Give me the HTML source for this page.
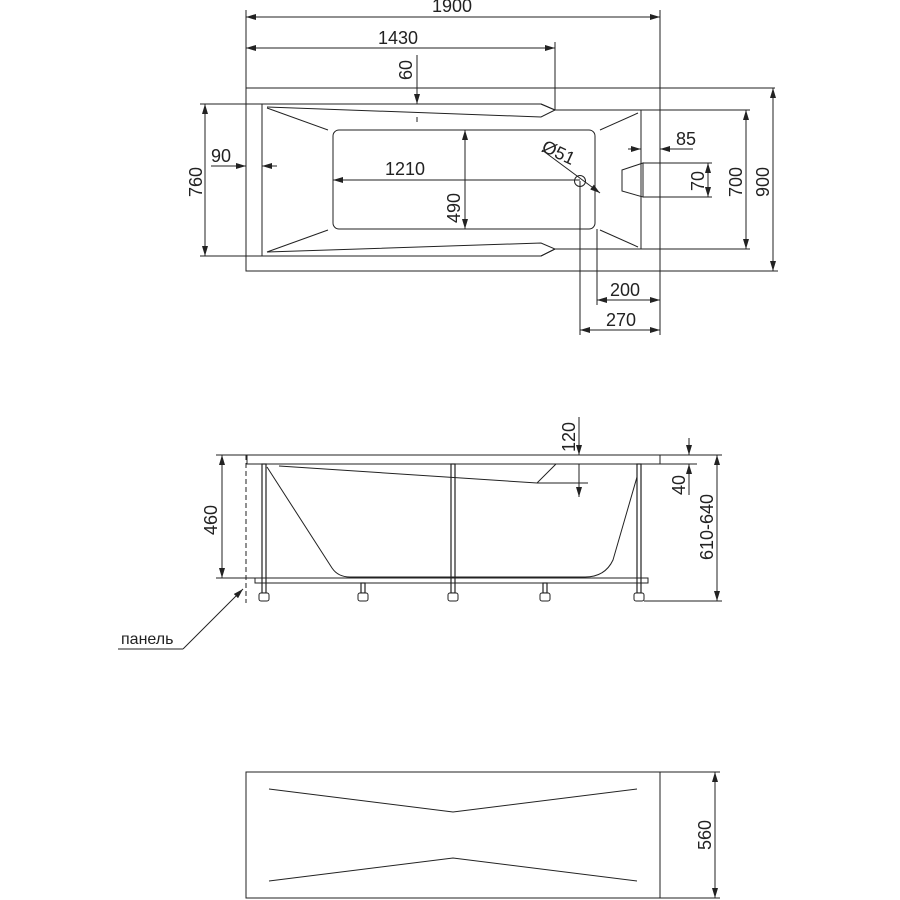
<!DOCTYPE html>
<html><head><meta charset="utf-8"><style>html,body{margin:0;padding:0;background:#fff}svg{display:block}</style></head>
<body>
<svg width="900" height="900" viewBox="0 0 900 900" xmlns="http://www.w3.org/2000/svg" font-family="'Liberation Sans', sans-serif" font-size="18" fill="none" stroke="#222" stroke-width="1">
<defs>
<marker id="a" viewBox="0 0 10 6" refX="10" refY="3" markerWidth="10" markerHeight="6" orient="auto-start-reverse" markerUnits="userSpaceOnUse"><path d="M0,0 L10,3 L0,6 z" fill="#222" stroke="none"/></marker>
</defs>
<!-- TOP VIEW -->
<rect x="246" y="88" width="414" height="183"/>
<line x1="660" y1="88" x2="775" y2="88"/>
<line x1="246" y1="10" x2="246" y2="88"/>
<line x1="660" y1="10" x2="660" y2="335"/>
<line x1="555" y1="42" x2="555" y2="110"/>
<line x1="246" y1="17" x2="660" y2="17" marker-start="url(#a)" marker-end="url(#a)"/>
<line x1="246" y1="48" x2="555" y2="48" marker-start="url(#a)" marker-end="url(#a)"/>
<text x="452" y="12" fill="#222" stroke="none" text-anchor="middle">1900</text>
<text x="398" y="44" fill="#222" stroke="none" text-anchor="middle">1430</text>
<!-- tub -->
<path d="M262,104 L541,104 L555,110 L641,110 L641,249 L555,249 L541,256 L262,256 Z" stroke-linejoin="round"/>
<path d="M541,104 L555,110 L541,117 L267,107"/>
<path d="M541,256 L555,249 L541,243 L267,252"/>
<rect x="333" y="130" width="262" height="99" rx="6"/>
<line x1="267" y1="108" x2="328" y2="130"/>
<line x1="638" y1="113" x2="600" y2="130"/>
<line x1="267" y1="252" x2="328" y2="230"/>
<line x1="638" y1="247" x2="600" y2="230"/>
<!-- 760 / 700 / 900 -->
<line x1="200" y1="104" x2="262" y2="104"/>
<line x1="200" y1="256" x2="262" y2="256"/>
<line x1="205" y1="104" x2="205" y2="256" marker-start="url(#a)" marker-end="url(#a)"/>
<text transform="translate(202,182) rotate(-90)" fill="#222" stroke="none" text-anchor="middle">760</text>
<line x1="641" y1="110" x2="750" y2="110"/>
<line x1="641" y1="249" x2="750" y2="249"/>
<line x1="746" y1="110" x2="746" y2="249" marker-start="url(#a)" marker-end="url(#a)"/>
<text transform="translate(742,182) rotate(-90)" fill="#222" stroke="none" text-anchor="middle">700</text>
<line x1="660" y1="271" x2="778" y2="271"/>
<line x1="773" y1="88" x2="773" y2="271" marker-start="url(#a)" marker-end="url(#a)"/>
<text transform="translate(769,182) rotate(-90)" fill="#222" stroke="none" text-anchor="middle">900</text>
<!-- 60 -->
<line x1="417" y1="55" x2="417" y2="104" marker-end="url(#a)"/>
<line x1="417" y1="117" x2="417" y2="122"/>
<text transform="translate(412,70) rotate(-90)" fill="#222" stroke="none" text-anchor="middle">60</text>
<!-- 90 -->
<line x1="211" y1="166" x2="246" y2="166" marker-end="url(#a)"/>
<line x1="277" y1="166" x2="262" y2="166" marker-end="url(#a)"/>
<text x="221" y="162" fill="#222" stroke="none" text-anchor="middle">90</text>
<!-- 1210, 490 -->
<line x1="333" y1="180" x2="580" y2="180" marker-start="url(#a)"/>
<text x="405" y="175" fill="#222" stroke="none" text-anchor="middle">1210</text>
<line x1="465" y1="130" x2="465" y2="229" marker-start="url(#a)" marker-end="url(#a)"/>
<text transform="translate(460,208) rotate(-90)" fill="#222" stroke="none" text-anchor="middle">490</text>
<!-- drain -->
<circle cx="580" cy="181" r="5.5"/>
<line x1="542" y1="150" x2="600" y2="193" marker-end="url(#a)"/>
<text transform="translate(556,158) rotate(25)" fill="#222" stroke="none" text-anchor="middle">Ø51</text>
<line x1="580" y1="181" x2="580" y2="335"/>
<line x1="597" y1="229" x2="597" y2="305"/>
<line x1="597" y1="300" x2="660" y2="300" marker-start="url(#a)" marker-end="url(#a)"/>
<text x="625" y="296" fill="#222" stroke="none" text-anchor="middle">200</text>
<line x1="580" y1="330" x2="660" y2="330" marker-start="url(#a)" marker-end="url(#a)"/>
<text x="621" y="326" fill="#222" stroke="none" text-anchor="middle">270</text>
<!-- headrest + 85, 70 -->
<path d="M622,170 L643,163 L643,197 L622,191 Z"/>
<line x1="643" y1="163" x2="712" y2="163"/>
<line x1="643" y1="197" x2="712" y2="197"/>
<line x1="708" y1="163" x2="708" y2="197" marker-start="url(#a)" marker-end="url(#a)"/>
<text transform="translate(704,181) rotate(-90)" fill="#222" stroke="none" text-anchor="middle">70</text>
<line x1="628" y1="149" x2="641" y2="149" marker-end="url(#a)"/>
<line x1="693" y1="149" x2="660" y2="149" marker-end="url(#a)"/>
<text x="686" y="145" fill="#222" stroke="none" text-anchor="middle">85</text>
<!-- SIDE VIEW -->
<line x1="216" y1="455" x2="722" y2="455"/>
<rect x="247" y="455" width="413" height="9"/>
<line x1="660" y1="464" x2="697" y2="464"/>
<path d="M267,467 L332,568 Q338,577 350,577 L585,577 Q605,577 613,560 L637,477"/>
<path d="M279,466 L537,483 L556,464"/>
<line x1="537" y1="483" x2="588" y2="483"/>
<rect x="255" y="578" width="393" height="5"/>
<g stroke-width="1.2">
<rect x="262" y="464" width="4" height="129"/>
<rect x="451" y="464" width="4" height="129"/>
<rect x="637" y="464" width="4" height="129"/>
<rect x="361" y="583" width="4" height="10"/>
<rect x="543" y="583" width="4" height="10"/>
</g>
<g fill="#fff">
<rect x="259" y="593" width="10" height="8" rx="2"/>
<rect x="358" y="593" width="10" height="8" rx="2"/>
<rect x="448" y="593" width="10" height="8" rx="2"/>
<rect x="540" y="593" width="10" height="8" rx="2"/>
<rect x="634" y="593" width="10" height="8" rx="2"/>
</g>
<line x1="216" y1="578" x2="255" y2="578"/>
<line x1="222" y1="455" x2="222" y2="578" marker-start="url(#a)" marker-end="url(#a)"/>
<text transform="translate(217,520) rotate(-90)" fill="#222" stroke="none" text-anchor="middle">460</text>
<line x1="246" y1="455" x2="246" y2="603" stroke-dasharray="5,3"/>
<line x1="183" y1="649" x2="243" y2="589" marker-end="url(#a)"/>
<line x1="183" y1="649" x2="118" y2="649"/>
<text x="121" y="644" fill="#222" stroke="none" font-size="16">панель</text>
<line x1="579" y1="417" x2="579" y2="455" marker-end="url(#a)"/>
<line x1="579" y1="464" x2="579" y2="497" marker-end="url(#a)"/>
<text transform="translate(575,437) rotate(-90)" fill="#222" stroke="none" text-anchor="middle">120</text>
<line x1="689" y1="438" x2="689" y2="455" marker-end="url(#a)"/>
<line x1="689" y1="495" x2="689" y2="464" marker-end="url(#a)"/>
<text transform="translate(685,485) rotate(-90)" fill="#222" stroke="none" text-anchor="middle">40</text>
<line x1="644" y1="601" x2="722" y2="601"/>
<line x1="717" y1="455" x2="717" y2="601" marker-start="url(#a)" marker-end="url(#a)"/>
<text transform="translate(713,527) rotate(-90)" fill="#222" stroke="none" text-anchor="middle">610-640</text>
<!-- BOTTOM VIEW -->
<rect x="246" y="772" width="414" height="126"/>
<line x1="660" y1="772" x2="720" y2="772"/>
<line x1="660" y1="898" x2="720" y2="898"/>
<line x1="715" y1="772" x2="715" y2="898" marker-start="url(#a)" marker-end="url(#a)"/>
<text transform="translate(711,835) rotate(-90)" fill="#222" stroke="none" text-anchor="middle">560</text>
<path d="M269,789 L453,812 L637,789"/>
<path d="M269,881 L453,858 L637,881"/>
</svg>
</body></html>
